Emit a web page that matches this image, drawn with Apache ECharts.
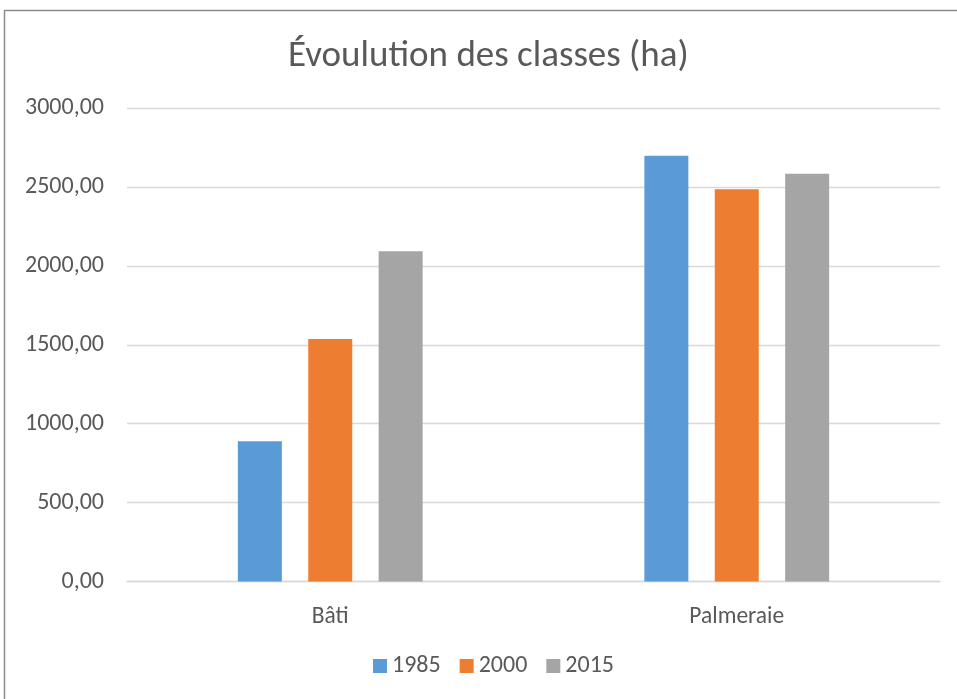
<!DOCTYPE html>
<html>
<head>
<meta charset="utf-8">
<script src="https://cdn.jsdelivr.net/npm/echarts@6/dist/echarts.min.js"></script>
<style>
  html, body { margin: 0; padding: 0; background: #fff; }
  #chart { width: 957px; height: 699px; }
</style>
</head>
<body>
<div id="chart"></div>
<script>
// Land-cover classes (hectares) for three survey years
const categories = ['Bâti', 'Palmeraie'];
const seriesNames = ['1985', '2000', '2015'];
const values1985 = [888, 2698];
const values2000 = [1536, 2485];
const values2015 = [2092, 2584];
const colors = ['#5B9BD5', '#ED7D31', '#A5A5A5'];

const FONT = 'Carlito, "Liberation Sans Narrow", "Open Sans", sans-serif';
const chart = echarts.init(document.getElementById('chart'), null, { renderer: 'canvas' });

const seriesData = [values1985, values2000, values2015];

chart.setOption({
  animation: false,
  backgroundColor: '#fff',
  title: {
    text: 'Évoulution des classes (ha)',
    left: 283,
    top: 33,
    textStyle: { fontFamily: FONT, fontSize: 37, fontWeight: 'normal', color: '#595959' }
  },
  graphic: [{
    type: 'rect',
    shape: { x: 4.5, y: 10.5, width: 970, height: 720 },
    style: { fill: 'none', stroke: '#8c8c8c', lineWidth: 1.5 },
    silent: true
  }],
  legend: {
    bottom: 16,
    left: 368,
    itemWidth: 14,
    itemHeight: 14,
    itemGap: 19,
    icon: 'rect',
    textStyle: { fontFamily: FONT, fontSize: 24, color: '#595959' },
    data: seriesNames
  },
  grid: { left: 127, right: 17, top: 108, bottom: 117.5, containLabel: false },
  xAxis: {
    type: 'category',
    data: categories,
    axisTick: { show: false },
    axisLine: { lineStyle: { color: '#d9d9d9', width: 1.3 } },
    axisLabel: { fontFamily: FONT, fontSize: 23.5, color: '#595959', margin: 24 }
  },
  yAxis: {
    type: 'value',
    min: 0,
    max: 3000,
    interval: 500,
    axisLine: { show: false },
    axisTick: { show: false },
    splitLine: { lineStyle: { color: '#d9d9d9', width: 1.3 } },
    axisLabel: {
      fontFamily: FONT, fontSize: 24, color: '#595959', margin: 23,
      formatter: v => v.toFixed(2).replace('.', ',')
    }
  },
  series: seriesNames.map((name, i) => ({
    name,
    type: 'bar',
    data: seriesData[i],
    barWidth: 44,
    barGap: '60%',
    itemStyle: { color: colors[i] }
  }))
});
</script>
</body>
</html>
